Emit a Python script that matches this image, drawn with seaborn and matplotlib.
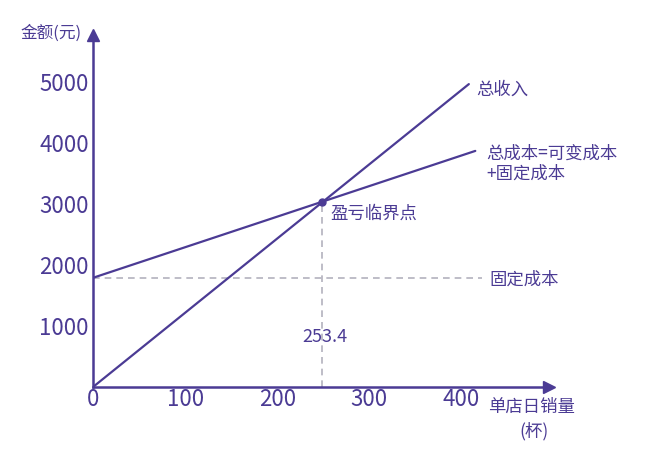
import numpy as np
import pandas as pd
import matplotlib
matplotlib.use("Agg")
import matplotlib.pyplot as plt
import seaborn as sns

# data
sales = [0, 408]
revenue = [0, 4965]
cost_sales = [0, 415]
total_cost = [1790, 3870]
fixed_cost = 1780
fixed_end = 422
be_x = 249
be_y = 3030
be_label = "253.4"
x_ticks = [0, 100, 200, 300, 400]
y_ticks = [1000, 2000, 3000, 4000, 5000]

purple = "#4b3b94"
grey = "#b3b1bd"

sns.set_style("white")
plt.rcParams["font.family"] = ["Noto Sans CJK SC", "DejaVu Sans"]

fig = plt.figure(figsize=(6.49, 4.51), dpi=100)
ax = fig.add_axes([0.1433, 0.1419, 0.7026, 0.7805])

df_rev = pd.DataFrame({"x": sales, "y": revenue})
df_cost = pd.DataFrame({"x": cost_sales, "y": total_cost})
sns.lineplot(data=df_rev, x="x", y="y", ax=ax, color=purple, lw=1.6)
sns.lineplot(data=df_cost, x="x", y="y", ax=ax, color=purple, lw=1.6)

#dashed guides
ax.plot([0, fixed_end], [fixed_cost, fixed_cost], ls=(0, (4, 3)), color=grey, lw=1.2, zorder=1)
ax.plot([be_x, be_x], [0, be_y], ls=(0, (4, 3)), color=grey, lw=1.2, zorder=1)
ax.plot([be_x], [be_y], "o", color=purple, ms=5, zorder=5)

ax.set_xlim(0, 495)
ax.set_ylim(0, 5770)
ax.set_xticks(x_ticks)
ax.set_yticks(y_ticks)
ax.set_xlabel("")
ax.set_ylabel("")

for s in ["top", "right"]:
    ax.spines[s].set_visible(False)
for s in ["left", "bottom"]:
    ax.spines[s].set_color(purple)
    ax.spines[s].set_linewidth(1.8)

ax.tick_params(axis="both", direction="in", length=5, width=1.5, color=purple,
               labelcolor=purple, labelsize=16)
ax.tick_params(axis="x", pad=1)
ax.tick_params(axis="y", pad=3)

#arrow heads
ax.plot(1, 0, ">", color=purple, ms=9, transform=ax.transAxes, clip_on=False)
ax.plot(0, 1, "^", color=purple, ms=9, transform=ax.transAxes, clip_on=False)

tc = purple
fs = 12.5
fig.text(0.031, 0.927, "金额(元)", fontsize=12, color=tc, va="center")
fig.text(0.752, 0.098, "单店日销量", fontsize=fs, color=tc, va="center")
fig.text(0.823, 0.044, "(杯)", fontsize=fs, color=tc, va="center", ha="center")

ax.text(416, 4869, "总收入", fontsize=fs, color=tc, va="center")
ax.text(427, 3820, "总成本=可变成本", fontsize=fs, color=tc, va="center")
ax.text(427, 3492, "+固定成本", fontsize=fs, color=tc, va="center")
ax.text(430, 1754, "固定成本", fontsize=fs, color=tc, va="center")
ax.text(257.6, 2836, "盈亏临界点", fontsize=fs, color=tc, va="center")
ax.text(252, 820, be_label, fontsize=13, color=tc, va="center", ha="center")

fig.savefig("out.png", dpi=100)
